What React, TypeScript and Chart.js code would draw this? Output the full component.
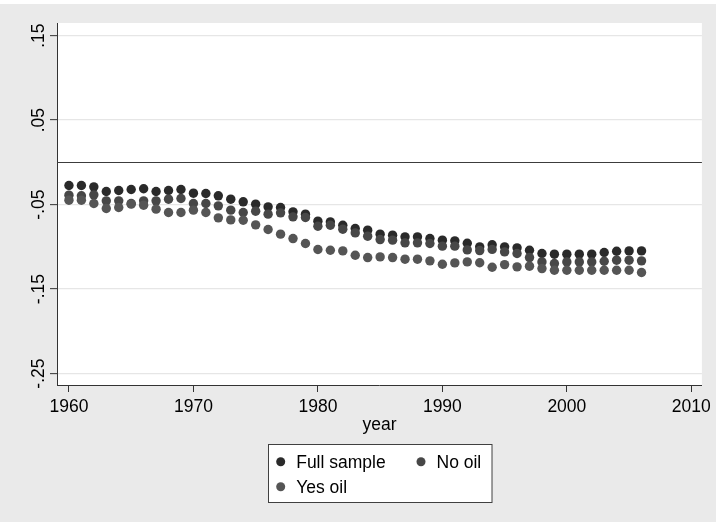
import React, { useEffect, useRef } from "react";
import { Chart, registerables } from "chart.js";

Chart.register(...registerables);

const years = [
  1960, 1961, 1962, 1963, 1964, 1965, 1966, 1967, 1968, 1969,
  1970, 1971, 1972, 1973, 1974, 1975, 1976, 1977, 1978, 1979,
  1980, 1981, 1982, 1983, 1984, 1985, 1986, 1987, 1988, 1989,
  1990, 1991, 1992, 1993, 1994, 1995, 1996, 1997, 1998, 1999,
  2000, 2001, 2002, 2003, 2004, 2005, 2006,
];

const fullSample = [
  -0.0274, -0.0274, -0.029, -0.0345, -0.0333, -0.0321, -0.0313, -0.0345, -0.0333, -0.0321,
  -0.0365, -0.0369, -0.0396, -0.0436, -0.0467, -0.0495, -0.0527, -0.0535, -0.0586, -0.0613,
  -0.0696, -0.0704, -0.0744, -0.0783, -0.0803, -0.085, -0.0862, -0.0882, -0.0882, -0.0902,
  -0.0921, -0.0929, -0.0957, -0.1, -0.0975, -0.1, -0.1012, -0.104, -0.1079, -0.1087,
  -0.1087, -0.1087, -0.1087, -0.1067, -0.1052, -0.1048, -0.1048,
];

const noOil = [
  -0.0388, -0.0396, -0.0385, -0.0456, -0.0456, -0.0487, -0.0456, -0.0456, -0.0436, -0.0428,
  -0.0487, -0.0487, -0.0515, -0.0566, -0.0594, -0.0578, -0.0613, -0.0598, -0.0645, -0.0653,
  -0.0756, -0.0744, -0.0791, -0.0835, -0.0874, -0.0914, -0.0921, -0.0953, -0.0953, -0.0961,
  -0.0992, -0.0992, -0.1036, -0.1044, -0.103, -0.106, -0.1079, -0.1127, -0.1178, -0.1198,
  -0.1178, -0.1178, -0.1178, -0.117, -0.1158, -0.1158, -0.1166,
];

const yesOil = [
  -0.0448, -0.0448, -0.0487, -0.0546, -0.0535, -0.0495, -0.0507, -0.0554, -0.0594, -0.0594,
  -0.0566, -0.0594, -0.0657, -0.0681, -0.0685, -0.074, -0.0795, -0.085, -0.0902, -0.0961,
  -0.1032, -0.104, -0.1048, -0.1099, -0.1127, -0.1119, -0.1127, -0.1146, -0.1146, -0.1166,
  -0.1206, -0.119, -0.1178, -0.1188, -0.1241, -0.121, -0.1237, -0.1229, -0.1257, -0.1277,
  -0.1277, -0.1277, -0.1277, -0.1277, -0.1277, -0.1277, -0.1304,
];

const seriesLabels = ["Full sample", "No oil", "Yes oil"];
const seriesColors = ["#2a2a2a", "#474747", "#555555"];

const xTicks = [1960, 1970, 1980, 1990, 2000, 2010];
const xTickLabels = ["1960", "1970", "1980", "1990", "2000", "2010"];
const yTicks = [0.15, 0.05, -0.05, -0.15, -0.25];
const yTickLabels = [".15", ".05", "-.05", "-.15", "-.25"];
const refLine = 0;
const xTitle = "year";

const FONT = "'Liberation Sans', Arial, Helvetica, sans-serif";
const FONT_SIZE = 17.5;

const bgPlugin = {
  id: "stataBg",
  beforeDraw(chart: any) {
    const { ctx, width, height, chartArea } = chart;
    ctx.save();
    ctx.fillStyle = "#ffffff";
    ctx.fillRect(0, 0, width, height);
    ctx.fillStyle = "#eaeaea";
    ctx.fillRect(0, 4, width, height - 8);
    ctx.fillStyle = "#ffffff";
    ctx.fillRect(chartArea.left, chartArea.top, chartArea.right - chartArea.left, chartArea.bottom - chartArea.top);
    ctx.restore();
  },
  beforeDatasetsDraw(chart: any) {
    const { ctx, chartArea, scales } = chart;
    const y = Math.round(scales.y.getPixelForValue(refLine)) + 0.5;
    ctx.save();
    ctx.strokeStyle = "#3c3c3c";
    ctx.lineWidth = 1.2;
    ctx.beginPath();
    ctx.moveTo(chartArea.left, y);
    ctx.lineTo(chartArea.right, y);
    ctx.stroke();
    ctx.restore();
  },
  afterDraw(chart: any) {
    const { ctx, chartArea, scales } = chart;
    ctx.save();
    // rotated y tick labels
    ctx.fillStyle = "#000";
    ctx.font = `${FONT_SIZE}px ${FONT}`;
    ctx.textAlign = "center";
    ctx.textBaseline = "alphabetic";
    yTicks.forEach((v, i) => {
      const py = scales.y.getPixelForValue(v);
      ctx.save();
      ctx.translate(chartArea.left - 13.5, py);
      ctx.rotate(-Math.PI / 2);
      ctx.fillText(yTickLabels[i], 0, 0);
      ctx.restore();
    });

    // legend box
    const bx = 268.5, by = 444.5, bw = 223.5, bh = 58;
    ctx.fillStyle = "#ffffff";
    ctx.fillRect(bx, by, bw, bh);
    ctx.strokeStyle = "#404040";
    ctx.lineWidth = 1;
    ctx.strokeRect(bx, by, bw, bh);
    const slots = [
      [280.7, 461.7],
      [421, 461.7],
      [280.7, 486.7],
    ];
    ctx.textAlign = "left";
    ctx.textBaseline = "middle";
    chart.data.datasets.forEach((ds: any, i: number) => {
      const [sx, sy] = slots[i];
      ctx.fillStyle = ds.backgroundColor;
      ctx.beginPath();
      ctx.arc(sx, sy, 4.5, 0, Math.PI * 2);
      ctx.fill();
      ctx.fillStyle = "#000";
      ctx.fillText(ds.label, sx + 15.5, sy + 1);
    });
    ctx.restore();
  },
};

export default function App() {
  const ref = useRef<HTMLCanvasElement | null>(null);

  useEffect(() => {
    if (!ref.current) return;
    const seriesValues = [fullSample, noOil, yesOil];
    const datasets = seriesValues.map((vals, i) => ({
      label: seriesLabels[i],
      data: years.map((yr, j) => ({ x: yr, y: vals[j] })),
      backgroundColor: seriesColors[i],
      borderColor: seriesColors[i],
      borderWidth: 0,
      pointRadius: 4.7,
      pointHoverRadius: 4.7,
      showLine: false,
      order: 3 - i,
    }));

    const chart = new Chart(ref.current, {
      type: "scatter",
      data: { datasets },
      options: {
        responsive: false,
        animation: false,
        devicePixelRatio: 1,
        layout: { padding: { left: 0, top: 23, right: 13, bottom: 87 } },
        plugins: {
          legend: { display: false },
          tooltip: { enabled: false },
        },
        scales: {
          x: {
            type: "linear",
            min: 1959.04,
            max: 2010.85,
            afterBuildTicks: (s: any) => {
              s.ticks = xTicks.map((v) => ({ value: v }));
            },
            afterFit: (s: any) => {
              s.height = 54;
            },
            grid: {
              drawOnChartArea: false,
              drawTicks: true,
              tickLength: 7,
              tickColor: "#333",
              tickWidth: 1,
            },
            border: { display: true, color: "#333", width: 1 },
            ticks: {
              font: { family: FONT, size: FONT_SIZE },
              color: "#000",
              padding: 5,
              maxRotation: 0,
              minRotation: 0,
              autoSkip: false,
              callback: (_v: any, i: number) => xTickLabels[i],
            },
            title: {
              display: true,
              text: xTitle,
              font: { family: FONT, size: FONT_SIZE },
              color: "#000",
              padding: { top: 0, bottom: 3 },
            },
          },
          y: {
            type: "linear",
            min: -0.2635,
            max: 0.1649,
            afterBuildTicks: (s: any) => {
              s.ticks = yTicks.map((v) => ({ value: v }));
            },
            afterFit: (s: any) => {
              s.width = 57;
            },
            grid: {
              color: "#e6e6e6",
              lineWidth: 1.3,
              drawTicks: true,
              tickLength: 7,
              tickColor: "#333",
              tickWidth: 1,
            },
            border: { display: true, color: "#333", width: 1 },
            ticks: { display: false },
          },
        },
      } as any,
      plugins: [bgPlugin as any],
    });
    return () => chart.destroy();
  }, []);

  return (
    <div style={{ position: "fixed", left: 0, top: 0, width: 716, height: 526 }}>
      <canvas ref={ref} width={716} height={526} style={{ display: "block", width: 716, height: 526 }} />
    </div>
  );
}
